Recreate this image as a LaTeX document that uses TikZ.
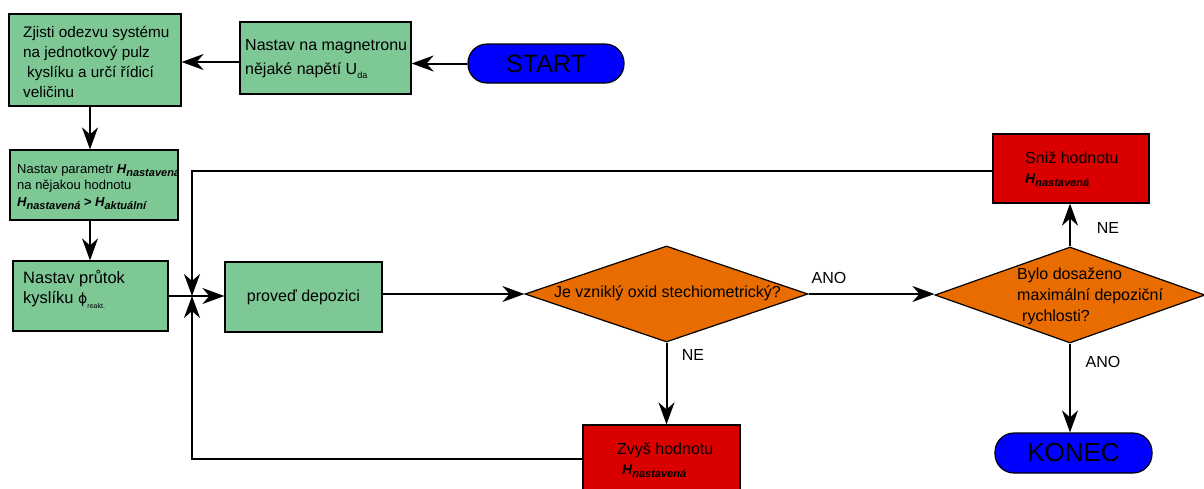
\documentclass[tikz,border=0pt]{standalone}
\usepackage{fontspec}
\setmainfont{Liberation Sans}
\newfontfamily\dejavu{DejaVu Sans}
\usetikzlibrary{arrows.meta,shapes.geometric}
\definecolor{boxgreen}{RGB}{126,200,150}
\definecolor{decorange}{RGB}{232,108,0}
\definecolor{boxred}{RGB}{219,0,0}
\definecolor{termblue}{RGB}{0,0,255}
\newcommand\Hsub[3]{{\bfseries\itshape\fontsize{#1}{#1}\selectfont H\raisebox{-0.45ex}{\fontsize{#2}{#2}\selectfont #3}}}
\newcommand\fs[2]{\fontsize{#1}{#2}\selectfont}
\begin{document}
\begin{tikzpicture}[x=1pt,y=-1pt,
  boxbase/.style={draw=black,line width=1.2pt,inner sep=0pt,anchor=center},
  greenbox/.style={boxbase,fill=boxgreen},
  redbox/.style={boxbase,fill=boxred},
  termbox/.style={boxbase,fill=termblue,rounded corners=19pt},
  decision/.style={boxbase,shape=diamond,fill=decorange},
  txt/.style={inner sep=0pt,align=left,anchor=west},
  lbl/.style={inner sep=0pt,font=\fs{16}{19}},
  conn/.style={line width=2pt},
  arr/.style={line width=2pt,-{Stealth[length=22pt,width=16pt,inset=7pt]}}]
\useasboundingbox (0,0) rectangle (1204,488);

% boxes
\node[greenbox,minimum width=172pt,minimum height=92pt] (box1) at (95,60) {};
\node[greenbox,minimum width=171pt,minimum height=72pt] (box2) at (325.5,58) {};
\node[termbox,minimum width=156pt,minimum height=39pt,font=\fs{25}{28}] (start) at (546,63.5) {START};
\node[greenbox,minimum width=168pt,minimum height=70pt] (box3) at (94,185) {};
\node[greenbox,minimum width=155pt,minimum height=70pt] (box4) at (90.5,296) {};
\node[greenbox,minimum width=157pt,minimum height=70pt,font=\fs{16}{19}] (box5) at (303.5,297) {proveď depozici};
\node[decision,minimum width=283pt,minimum height=96pt,font=\fs{16}{19}] (d1) at (666.5,294) {};
\node[decision,minimum width=270pt,minimum height=96pt] (d2) at (1070,295) {};
\node[redbox,minimum width=156pt,minimum height=69pt] (snizh) at (1071,168.5) {};
\node[termbox,minimum width=157pt,minimum height=40pt,font=\fs{26}{29}] (konec) at (1073.5,453) {KONEC};
\node[redbox,minimum width=157pt,minimum height=75pt] (zvys) at (661.5,462.5) {};

% texts
\node[txt,font=\fs{15.3}{20}] (t1) at (23,62) {Zjisti odezvu systému\\na jednotkový pulz\\\hspace{4pt}kyslíku a určí řídicí\\veličinu};
\node[txt,font=\fs{16}{24}] (t2) at (245,59) {Nastav na magnetronu\\nějaké napětí U\raisebox{-0.5ex}{\fs{9}{9}da}};
\begin{scope}
\clip (box3.north west) rectangle (box3.south east);
\node[txt,font=\fs{13}{16.5}] (t3) at (17,187) {Nastav parametr \Hsub{13}{11}{nastavená}\\na nějakou hodnotu\\\Hsub{13}{11}{nastavená} \textbf{>} \Hsub{13}{11}{aktuální}};
\end{scope}
\node[txt,font=\fs{16.5}{20}] (t4) at (23,289) {Nastav průtok\\kyslíku {\dejavu\fs{14}{14}ϕ}\raisebox{-0.6ex}{\fs{7}{7}reakt.}};
\node[inner sep=0pt,font=\fs{16}{19}] (t5) at (667.5,293) {Je vzniklý oxid stechiometrický?};
\node[txt,font=\fs{16}{21}] (t6) at (1017,296) {Bylo dosaženo\\maximální depoziční\\\hspace{5pt}rychlosti?};
\node[txt,font=\fs{16}{20}] (t7) at (1025,169) {Sniž hodnotu\\\Hsub{14}{11}{nastavená}};
\node[txt,font=\fs{16}{20}] (t8) at (617,460) {Zvyš hodnotu\\\hspace{5pt}\Hsub{14}{11}{nastavená}};

% labels
\node[lbl] (lano1) at (829,278) {ANO};
\node[lbl] (lne1) at (693,355) {NE};
\node[lbl] (lne2) at (1108,228) {NE};
\node[lbl] (lano2) at (1103,362) {ANO};

% connectors
\coordinate (v) at (90,0);
\coordinate (j) at (192,296);
\draw[arr] (start.west) -- (start.west -| box2.east);
\draw[arr] (box2.west |- 0,62) -- (box1.east |- 0,62);
\draw[arr] (box1.south -| v) -- (box3.north -| v);
\draw[arr] (box3.south -| v) -- (box4.north -| v);
\draw[arr] (box4.east |- j) -- (box5.west |- j);
\draw[arr] (box5.east |- d1.west) -- (d1.west);
\draw[arr] (d1.east) -- (d1.east -| d2.west);
\draw[arr] (d1.south) -- (d1.south |- zvys.north);
\draw[arr] (d2.north) -- (d2.north |- snizh.south);
\draw[arr] (d2.south) -- (d2.south |- konec.north);
\draw[arr] (snizh.west |- 0,171) -- (j |- 0,171) -- (j);
\draw[arr] (zvys.west |- 0,459) -- (j |- 0,459) -- (j);
\end{tikzpicture}
\end{document}
